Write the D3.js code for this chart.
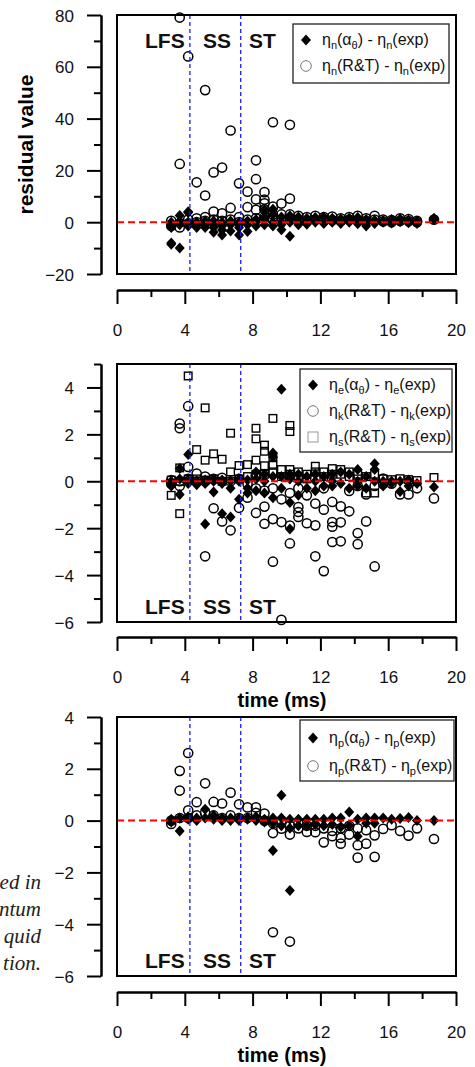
<!DOCTYPE html>
<html>
<head>
<meta charset="utf-8">
<script src="https://cdn.jsdelivr.net/npm/d3@7"></script>
<style>
  body { margin: 0; background: #fff; }
  svg { display: block; font-family: "Liberation Sans", Arial, sans-serif; }
</style>
</head>
<body>
<div id="chart"></div>
<script>
// sampling times (ms), one group of values per time in every series below
var times = [3.2, 3.7, 4.2, 4.7, 5.2, 5.7, 6.2, 6.7, 7.2, 7.7, 8.2, 8.7, 9.2, 9.7, 10.2,
    10.7, 11.2, 11.7, 12.2, 12.7, 13.2, 13.7, 14.2, 14.7, 15.2, 15.7, 16.2, 16.7, 17.2, 17.7, 18.7];

// stage boundaries (ms) and names
var stageLines = [4.3, 7.3];
var stageNames = ["LFS", "SS", "ST"];

// panel 1: eta_n residuals
var nAlpha = [[-8, -8.5, -2, 0, -1], [-10, 2.6, -1, 0.5], [3.7, 0, -1.5, 4], [0, -1, -2], [0.5, -2, -1],
    [-3.9, -1, 0.5, -2], [-4.9, -1.5, 0, -3], [-3.4, -1, 0.5], [-4.9, -2, 0, -1], [-3.6, -1, 0.5],
    [0, -1.5, 1], [4.8, 1, -1, 2], [3, 0, -1.5, 5], [-2.9, 2, 0, -1], [-5.4, 1.5, 0, 2.5],
    [2, 0, -1], [1.5, 0, -0.8], [1.8, 0, 0.5], [2, 0, -0.5], [1.5, 0, 0.6], [1.2, 0, -0.5],
    [1.5, 0, 0.5], [1.8, 0.2, -0.6], [1, 0, -1.5], [0.8, 0, -0.5], [0.5, 0], [1, -0.3],
    [1.2, 0.2], [0.8, -0.2], [0.2, -0.5], [1.5, 1]];
var nRT = [[-1.5, 0.5], [79, 22.5, -2], [64, -0.5, 1], [15.4, 1.5, 0], [51, 10.3, 2, 0.5],
    [19.2, 4.1, 1], [21.1, 3.4, 0.5], [35.4, 5.5, 1], [15, 2, 0], [11.8, 5.8, 1],
    [23.9, 16.6, 8.8, 4.8, 1.5], [11.6, 8.7, 7.3, 5, 2], [38.6, 6, 3, 1], [7.2, 3, 1], [37.6, 9.1, 3, 1],
    [2.5, 1], [2, 0.5], [2.5, 1], [2, 0.5], [2.2, 0.8], [1.5, 0.5], [2, 1], [2.5, 0.8], [1.5, 0.5],
    [2.5, 1], [1, 0.3], [0.8, 0], [1.5, 0.5], [1.2, 0.4], [0.5, 0], [1]];

// panel 2: eta_e, eta_k, eta_s residuals
var eAlpha = [[0, -0.2], [0.54, -0.56, 0.1], [1.14, 0.1, -0.1], [0, -0.15], [-1.82, 0.05, -0.1],
    [-0.46, 0, 0.1], [-1.38, -0.1, 0.05], [-1.52, -0.3, 0], [-0.77, 0, 0.1], [-0.3, 0.05, -0.5],
    [-0.4, 0.1, 0.4], [0.3, -0.5, 0], [1.21, 1.04, -0.7, 0.2], [3.92, 0.2, -0.3], [-2.04, -0.91, 0.1, 0.3],
    [0.3, -0.6, 0], [0.2, -0.3], [0.3, -0.4, 0], [0.2, -0.2], [-0.2, 0.3, 0], [0.4, -0.1],
    [0.3, -0.3], [0.5, 0, -0.2], [0.2, -0.3], [0.75, 0.5, 0], [0, -0.2], [0, -0.1], [-0.44, 0],
    [-0.2, 0.05], [-0.1], [-0.24]];
var kRT = [[-0.1, 0.05], [2.46, 2.26, 0, -0.2], [3.2, 0.61, 0.1], [0.33, 0], [-3.2, 0.2, 0],
    [-1.15, 0.1], [-1.71, 0.15], [-2.09, 0], [-1.13, 0.1], [-0.7, -0.1], [-1.35, -0.3, 0.2],
    [-1.08, -1.81, -0.4], [-1.61, -3.43, -0.3], [-1.74, -5.91, -0.77], [-2.65, -1.89, -0.5],
    [-1.31, -1.52, -1.1, -0.3], [-1.79, -0.6], [-0.95, -1.88, -3.2], [-1.21, -3.83, -0.3],
    [-0.88, -1.74, -1.94, -2.59], [-1.07, -1.75, -2.56], [-1.28, -0.41], [-2.21, -2.68, -0.2],
    [-1.71, -0.56], [-3.63, -0.2], [0.11, -0.1], [-0.1], [-0.56], [-0.56], [-0.3], [-0.73]];
var sRT = [[-0.6, 0.05], [-1.38, 0.57, 0], [4.49, 0.1], [1.35, 0.1], [3.13, 0.9, 0.05], [1.17, 0.1],
    [0.94, 0], [2.05, 0.4], [0.67, 0.1], [0.71, 0.2], [2.26, 1.81, 0.9, 0.3], [1.54, 1.28, 0.66, 0.3],
    [2.68, 1.04, 0.68, 0.4], [0.5, 0.2], [2.38, 2.12, 0.5, 0.3], [0.4, 0.2], [0.3, 0.1], [0.64, 0.4],
    [0.4, 0.2], [0.54, 0.3], [0.5, 0.3], [0.4, 0.2], [0.3, 0.1], [-0.5, 0.2], [-0.5, 0.3], [0.1],
    [0.07], [0.11], [0.07], [0.03], [0.16]];

// panel 3: eta_p residuals
var pAlpha = [[0.05, -0.05], [-0.4, 0.1], [0.15, 0.05], [0.1, 0], [0.44, 0.1], [0.2, 0.05], [0.1, 0],
    [0.1, 0], [0.1, 0], [0.05, 0.1], [0.15, 0], [0.05, -0.05], [-1.15, 0.1, -0.1], [0.98, 0.1, -0.2],
    [-2.7, 0.05, -0.3], [0.05, -0.2], [0.05, -0.2], [0.05, -0.15], [0.05, -0.2], [0.1, -0.15],
    [0.1, -0.25], [0.33, -0.2], [0.05, -0.6], [0.1, -0.1], [0.1, -0.1], [0.1], [0.05], [0.08],
    [0.12], [0], [0]];
var pRT = [[-0.13, 0], [1.92, 1.16, 0.1], [2.61, 0.4, 0.1], [0.71, 0.2], [1.44, 0.3], [0.72, 0.2],
    [0.66, 0.1], [1.08, 0.2], [0.63, 0.1], [0.51, 0.1], [0.51, 0.3], [0.27, 0], [-4.31, -0.48, -0.1],
    [-0.31, 0], [-4.67, -0.54, -0.2], [-0.3, -0.1], [-0.44, -0.2], [-0.45, -0.2], [-0.84, -0.3],
    [-0.6, -0.4], [-0.89, -0.67, -0.3], [-0.54, -0.2], [-0.95, -1.43, -0.3], [-0.89, -0.37],
    [-0.57, -1.4], [-0.32], [-0.18], [-0.4], [-0.58], [-0.3], [-0.71]];

// x ticks shared by all panels
var xMajor = [0, 4, 8, 12, 16, 20];
var xMinor = [2, 6, 10, 14, 18];

var W = 475, H = 1067;
var svg = d3.select("#chart").append("svg").attr("width", W).attr("height", H);

var x = d3.scaleLinear().domain([0, 20]).range([117, 456]);
var AXIS_X = 101;

// flatten grouped values into points
function toPoints(groups) {
    var pts = [];
    groups.forEach(function (g, i) {
        g.forEach(function (v) { pts.push({t: times[i], v: v}); });
    });
    return pts;
}

var diamondPath = "M0,-5.5L5,0L0,5.5L-5,0Z";

function drawMarks(g, y, data, kind) {
    var pts = toPoints(data);
    if (kind === "diamond") {
        g.selectAll(null).data(pts).enter().append("path")
            .attr("d", diamondPath)
            .attr("transform", function (d) { return "translate(" + x(d.t) + "," + y(d.v) + ")"; })
            .attr("fill", "#000");
    } else if (kind === "circle") {
        g.selectAll(null).data(pts).enter().append("circle")
            .attr("cx", function (d) { return x(d.t); })
            .attr("cy", function (d) { return y(d.v); })
            .attr("r", 4.6)
            .attr("fill", "none").attr("stroke", "#000").attr("stroke-width", 1.5);
    } else {
        g.selectAll(null).data(pts).enter().append("rect")
            .attr("x", function (d) { return x(d.t) - 3.8; })
            .attr("y", function (d) { return y(d.v) - 3.8; })
            .attr("width", 7.6).attr("height", 7.6)
            .attr("fill", "none").attr("stroke", "#000").attr("stroke-width", 1.4);
    }
}

// text with subscripts
function richText(sel, parts) {
    var prevSub = false;
    parts.forEach(function (p) {
        var sub = p[1] === 1;
        var ts = sel.append("tspan").text(p[0]);
        if (sub) ts.attr("font-size", 11).attr("dy", prevSub ? 0 : 4);
        else if (prevSub) ts.attr("dy", -4);
        prevSub = sub;
    });
}

function drawPanel(cfg) {
    var top = cfg.top, bottom = cfg.bottom;
    var y = d3.scaleLinear().domain(cfg.yDomain).range([bottom, top]);
    var g = svg.append("g");

    // y axis (detached, left of the box)
    var yMajor = d3.range(cfg.yDomain[0], cfg.yDomain[1] + 0.001, cfg.yStep);
    var yMinor = d3.range(cfg.yDomain[0] + cfg.yStep / 2, cfg.yDomain[1] + 0.001, cfg.yStep);
    var ya = g.append("g").attr("transform", "translate(" + AXIS_X + ",0)")
        .call(d3.axisLeft(y).tickValues(yMajor).tickSize(14).tickSizeOuter(0));
    g.append("g").attr("transform", "translate(" + AXIS_X + ",0)")
        .call(d3.axisLeft(y).tickValues(yMinor).tickSize(7).tickSizeOuter(0).tickFormat(""));
    ya.selectAll("text").attr("x", -27).attr("dy", "0.36em")
        .attr("font-size", 17).attr("fill", "#111").attr("font-family", null);

    // x axis (detached, below the box)
    var xa = g.append("g").attr("transform", "translate(0," + cfg.xAxisY + ")")
        .call(d3.axisBottom(x).tickValues(xMajor).tickSize(14).tickSizeOuter(0));
    g.append("g").attr("transform", "translate(0," + cfg.xAxisY + ")")
        .call(d3.axisBottom(x).tickValues(xMinor).tickSize(7).tickSizeOuter(0).tickFormat(""));
    xa.selectAll("text").attr("y", 46).attr("dy", null)
        .attr("font-size", 17).attr("fill", "#111").attr("font-family", null);

    g.selectAll(".domain, .tick line").attr("stroke", "#000").attr("stroke-width", 2);

    // marks
    var mg = g.append("g");
    cfg.series.forEach(function (s) { drawMarks(mg, y, s.data, s.kind); });

    // zero line and stage boundaries
    g.append("line")
        .attr("x1", x(0)).attr("x2", x(20)).attr("y1", y(0)).attr("y2", y(0))
        .attr("stroke", "#f00").attr("stroke-width", 2).attr("stroke-dasharray", "7,4");
    g.selectAll(null).data(stageLines).enter().append("line")
        .attr("x1", function (d) { return x(d); }).attr("x2", function (d) { return x(d); })
        .attr("y1", top).attr("y2", bottom)
        .attr("stroke", "#1a1aff").attr("stroke-width", 1.3).attr("stroke-dasharray", "4,3");

    // frame
    g.append("rect").attr("x", x(0)).attr("y", top)
        .attr("width", x(20) - x(0)).attr("height", bottom - top)
        .attr("fill", "none").attr("stroke", "#000").attr("stroke-width", 2);

    // stage names
    var stageX = [145, 203, 249];
    g.selectAll(null).data(stageNames).enter().append("text")
        .attr("x", function (d, i) { return stageX[i]; })
        .attr("y", cfg.stageY)
        .attr("font-size", 21).attr("font-weight", "bold").attr("fill", "#111")
        .text(function (d) { return d; });

    // legend
    var L = cfg.legend;
    g.append("rect").attr("x", L.x).attr("y", L.y).attr("width", L.w).attr("height", L.h)
        .attr("fill", "#fff").attr("stroke", "#222").attr("stroke-width", 1.3);
    cfg.series.forEach(function (s, i) {
        var ry = L.y + L.first + i * L.gap;
        var mx = L.x + 13;
        if (s.kind === "diamond") {
            g.append("path").attr("d", diamondPath)
                .attr("transform", "translate(" + mx + "," + ry + ")").attr("fill", "#000");
        } else if (s.kind === "circle") {
            g.append("circle").attr("cx", mx).attr("cy", ry).attr("r", 5.3)
                .attr("fill", "none").attr("stroke", "#777").attr("stroke-width", 1);
        } else {
            g.append("rect").attr("x", mx - 5).attr("y", ry - 5).attr("width", 10).attr("height", 10)
                .attr("fill", "none").attr("stroke", "#999").attr("stroke-width", 1);
        }
        var t = g.append("text").attr("x", L.x + 29).attr("y", ry + 5)
            .attr("font-size", 16).attr("fill", "#111");
        richText(t, s.label);
    });

    if (cfg.xTitle) {
        g.append("text").attr("x", 282).attr("y", cfg.xAxisY + 70)
            .attr("text-anchor", "middle").attr("font-size", 20).attr("font-weight", "bold")
            .text("time (ms)");
    }
    if (cfg.yTitle) {
        g.append("text")
            .attr("transform", "translate(33," + ((top + bottom) / 2) + ") rotate(-90)")
            .attr("text-anchor", "middle").attr("font-size", 21).attr("font-weight", "bold")
            .text("residual value");
    }
}

drawPanel({
    top: 15, bottom: 274, yDomain: [-20, 80], yStep: 20, xAxisY: 290, stageY: 48,
    xTitle: false, yTitle: true,
    legend: {x: 293, y: 24, w: 156, h: 59, first: 16, gap: 26},
    series: [
        {data: nAlpha, kind: "diamond", label: [["η"], ["n", 1], ["(α"], ["θ", 1], [") - η"], ["n", 1], ["(exp)"]]},
        {data: nRT, kind: "circle", label: [["η"], ["n", 1], ["(R&T) - η"], ["n", 1], ["(exp)"]]}
    ]
});

drawPanel({
    top: 364, bottom: 622, yDomain: [-6, 5], yStep: 2, xAxisY: 637, stageY: 614,
    xTitle: true, yTitle: false,
    legend: {x: 300, y: 369, w: 152, h: 83, first: 16, gap: 26},
    series: [
        {data: eAlpha, kind: "diamond", label: [["η"], ["e", 1], ["(α"], ["θ", 1], [") - η"], ["e", 1], ["(exp)"]]},
        {data: kRT, kind: "circle", label: [["η"], ["k", 1], ["(R&T) - η"], ["k", 1], ["(exp)"]]},
        {data: sRT, kind: "square", label: [["η"], ["s", 1], ["(R&T) - η"], ["s", 1], ["(exp)"]]}
    ]
});

drawPanel({
    top: 717, bottom: 976, yDomain: [-6, 4], yStep: 2, xAxisY: 992, stageY: 968,
    xTitle: true, yTitle: false,
    legend: {x: 300, y: 720, w: 154, h: 61, first: 18, gap: 28},
    series: [
        {data: pAlpha, kind: "diamond", label: [["η"], ["p", 1], ["(α"], ["θ", 1], [") - η"], ["p", 1], ["(exp)"]]},
        {data: pRT, kind: "circle", label: [["η"], ["p", 1], ["(R&T) - η"], ["p", 1], ["(exp)"]]}
    ]
});

// cropped caption fragment at the left edge
var captionLines = ["ed in", "ntum", "quid", "tion."];
svg.selectAll(null).data(captionLines).enter().append("text")
    .attr("x", 41).attr("y", function (d, i) { return 889 + i * 27; })
    .attr("text-anchor", "end")
    .attr("font-family", "'Liberation Serif', 'Times New Roman', serif")
    .attr("font-style", "italic").attr("font-size", 21).attr("fill", "#222")
    .text(function (d) { return d; });
</script>
</body>
</html>
